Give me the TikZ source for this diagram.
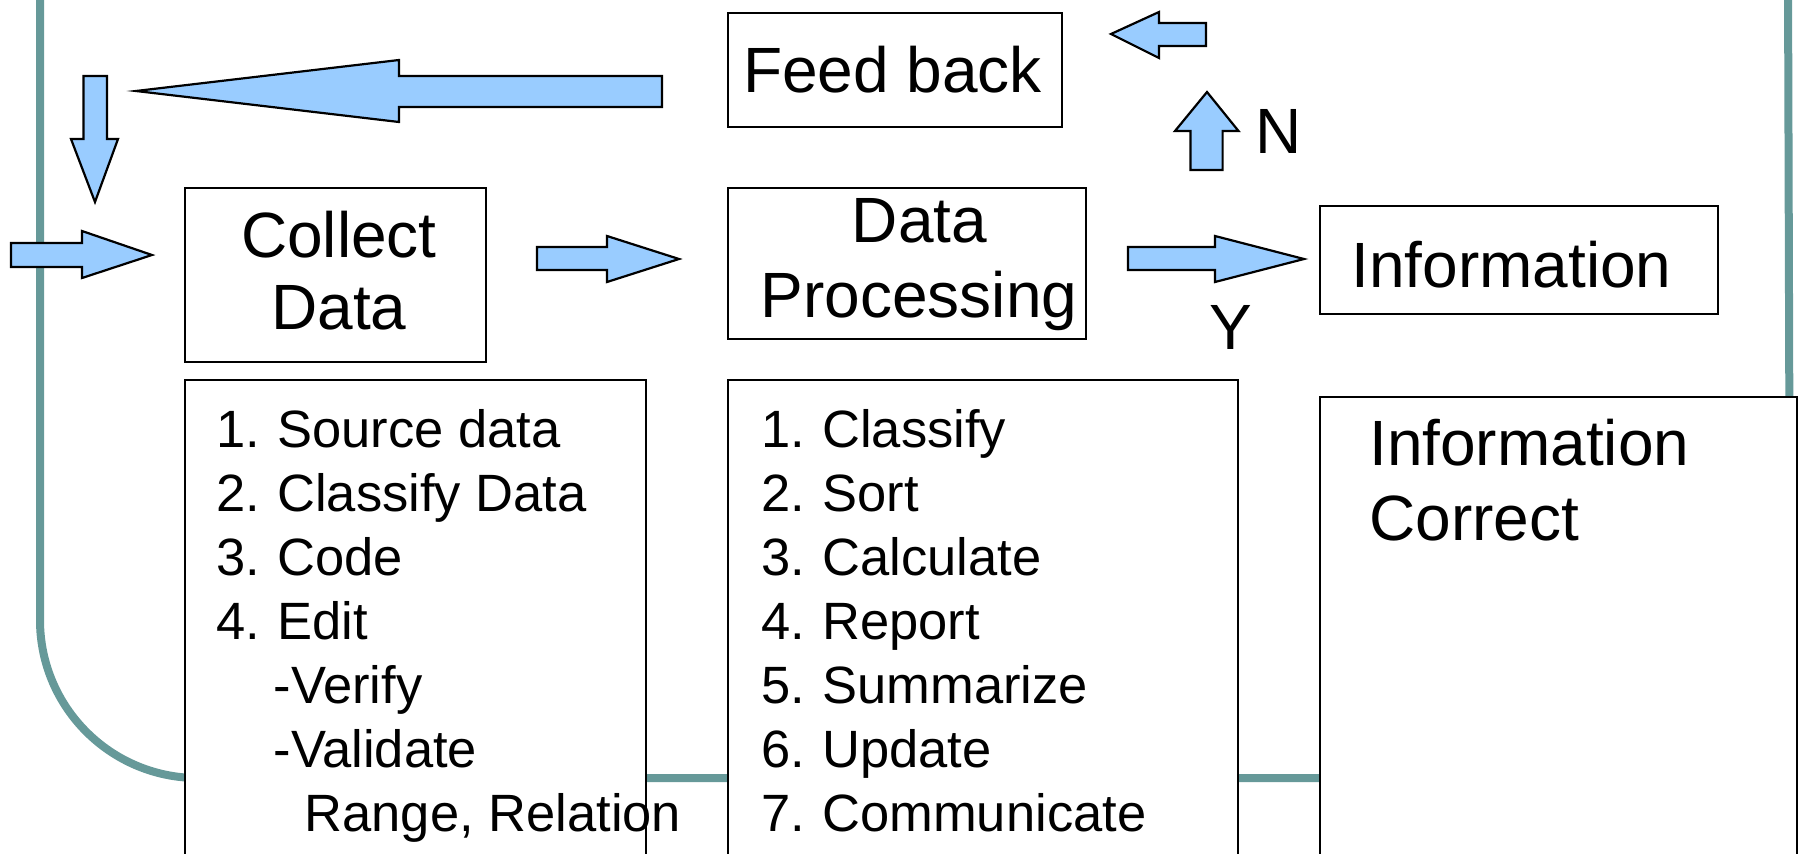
\documentclass[tikz,border=0pt]{standalone}
\usepackage{fontspec}
\setmainfont{Liberation Sans}
\definecolor{arrowblue}{HTML}{99CCFF}
\definecolor{frameteal}{HTML}{669999}
\begin{document}
\begin{tikzpicture}[x=1pt,y=-1pt,
  box/.style={draw=black, line width=2pt, fill=white, inner sep=0pt, anchor=north west},
  ttl/.style={font=\fontsize{64}{74}\selectfont, inner sep=0pt, anchor=base},
  itm/.style={font=\fontsize{52.5}{64}\selectfont, inner sep=0pt, anchor=base west},
  barrow/.style={fill=arrowblue, draw=black, line width=2.2pt, line join=miter}]
\useasboundingbox (0,0) rectangle (1802,854);
% frame
\draw[frameteal, line width=8pt] (40,-20) -- (40,620) arc[start angle=180, end angle=90, radius=158]
  -- (1632,778) arc[start angle=90, end angle=0, radius=158] -- (1788,-20);
% boxes
\node[box, minimum width=334pt, minimum height=114pt] (fb) at (727,11.5) {};
\node[box, minimum width=301pt, minimum height=174pt] (cd) at (184,187) {};
\node[box, minimum width=358pt, minimum height=151pt] (dp) at (727,187) {};
\node[box, minimum width=398pt, minimum height=108pt] (inf) at (1319,205) {};
\node[box, minimum width=461pt, minimum height=560pt] (l1) at (184,379) {};
\node[box, minimum width=510pt, minimum height=560pt] (l2) at (727,379) {};
\node[box, minimum width=477pt, minimum height=560pt] (ic) at (1319,396) {};
% titles
\node[ttl] (fbt) at (892.5,92.7) {Feed back};
\node[ttl] (cdt1) at (339,257) {Collect};
\node[ttl] (cdt2) at (339,329) {Data};
\node[ttl] (dpt1) at (919.5,242) {Data};
\node[ttl] (dpt2) at (919,317) {Processing};
\node[ttl] (inft) at (1511.5,287) {Information};
\node[ttl, anchor=base west] (ic1) at (1369,465) {Information};
\node[ttl, anchor=base west] (ic2) at (1369,540) {Correct};
\node[ttl] (nlab) at (1278.5,153) {N};
\node[ttl] (ylab) at (1231,349) {Y};
% list 1
\node[itm] (c1) at (216,447) {1.\kern-2pt{} Source data};
\node[itm] (c2) at (216,511) {2.\kern-2pt{} Classify Data};
\node[itm] (c3) at (216,575) {3.\kern-2pt{} Code};
\node[itm] (c4) at (216,639) {4.\kern-2pt{} Edit};
\node[itm] (c5) at (273.5,703) {-Verify};
\node[itm] (c6) at (273.5,767) {-Validate};
\node[itm] (c7) at (304.5,831) {Range, Relation};
% list 2
\node[itm] (p1) at (761,447) {1.\kern-2pt{} Classify};
\node[itm] (p2) at (761,511) {2.\kern-2pt{} Sort};
\node[itm] (p3) at (761,575) {3.\kern-2pt{} Calculate};
\node[itm] (p4) at (761,639) {4.\kern-2pt{} Report};
\node[itm] (p5) at (761,703) {5.\kern-2pt{} Summarize};
\node[itm] (p6) at (761,767) {6.\kern-2pt{} Update};
\node[itm] (p7) at (761,831) {7.\kern-2pt{} Communicate};
% block arrows
\draw[barrow] (136,91) -- (399,60) -- (399,76) -- (662,76) -- (662,107) -- (399,107) -- (399,122) -- cycle;
\draw[barrow] (95,202) -- (71,139) -- (83.5,139) -- (83.5,76) -- (107,76) -- (107,139) -- (118,139) -- cycle;
\draw[barrow] (152,255) -- (82,231) -- (82,243) -- (11,243) -- (11,267) -- (82,267) -- (82,278) -- cycle;
\draw[barrow] (679,259) -- (607,236) -- (607,247) -- (537,247) -- (537,270) -- (607,270) -- (607,282) -- cycle;
\draw[barrow] (1304,259) -- (1215,236) -- (1215,247) -- (1128,247) -- (1128,270) -- (1215,270) -- (1215,282) -- cycle;
\draw[barrow] (1207,92) -- (1175,131) -- (1190.5,131) -- (1190.5,170) -- (1222.6,170) -- (1222.6,131) -- (1238.5,131) -- cycle;
\draw[barrow] (1111,34) -- (1159,12) -- (1159,23) -- (1206,23) -- (1206,46) -- (1159,46) -- (1159,58) -- cycle;
\end{tikzpicture}
\end{document}
